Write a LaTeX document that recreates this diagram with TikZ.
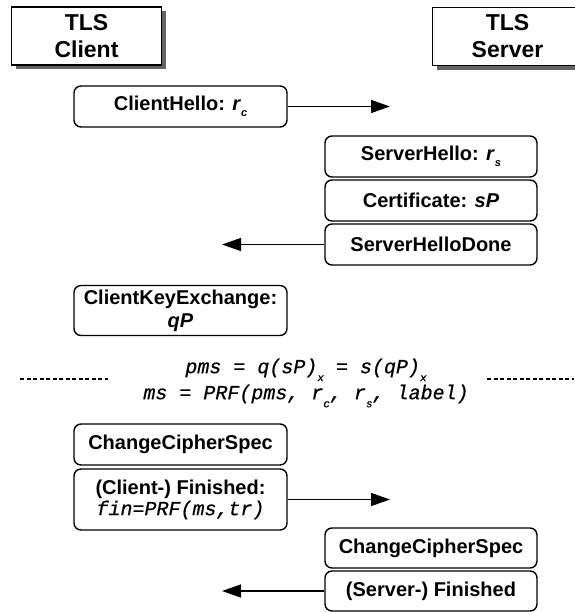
\documentclass[tikz,border=0pt]{standalone}
\usepackage{fontspec}
\setmainfont{Liberation Sans}
\setmonofont{Liberation Mono}[FakeBold=0.6]
\usetikzlibrary{arrows.meta}
\definecolor{tlsshade}{RGB}{100,100,100}
\newcommand{\lowsub}[2][-6pt]{\raisebox{#1}{\fontsize{11}{11}\selectfont #2}}
\newcommand{\msgsize}{\fontsize{20}{23}\selectfont}
\tikzset{party/.style={draw,line width=1.3pt,fill=white,minimum width=150pt,minimum height=58pt,inner sep=0pt,align=center,
    font=\bfseries\fontsize{23}{27}\selectfont},
  partyback/.style={fill=tlsshade,minimum width=150pt,minimum height=58pt,inner sep=0pt},
  msg/.style={draw,line width=1.4pt,rounded corners=7pt,minimum width=213pt,minimum height=41pt,inner sep=0pt,align=center,font=\bfseries\msgsize},
  send/.style={-{Triangle[length=19pt,width=13pt]},line width=1.4pt},
  sep/.style={line width=1.4pt,dash pattern=on 4pt off 2.5pt},
  keytext/.style={font=\ttfamily\itshape\fontsize{20}{26}\selectfont,align=center}}

\begin{document}
\begin{tikzpicture}[x=1pt,y=-1pt]
\useasboundingbox (0,0) rectangle (574,612);
\node[partyback] (clback) at (91,40.5) {};
\node[partyback] (svback) at (512,41) {};
\node[party] (cl) at (86.5,36) {TLS\\Client};
\node[party] (sv) at (507.5,36.5) {TLS\\Server};
\node[msg] (chello) at (180.5,106.5) {ClientHello: \textit{r}\lowsub{\textit{c}}};
\node[msg,minimum width=212pt] (shello) at (431,156.5) {ServerHello: \textit{r}\lowsub{\textit{s}}};
\node[msg,minimum width=212pt] (cert) at (431,200.5) {Certificate: \textit{sP}};
\node[msg,minimum width=212pt] (shdone) at (431,244.5) {ServerHelloDone};
\node[msg,minimum height=50pt] (cke) at (180.5,310.5) {ClientKeyExchange:\\\textit{qP}};
\node[keytext] (keys) at (306,383) {pms = q(sP)\lowsub[-8pt]{x} = s(qP)\lowsub[-8pt]{x}\\ms = PRF(pms, r\lowsub[-8pt]{c}, r\lowsub[-8pt]{s}, label)};
\node[msg] (ccsc) at (180.5,444.5) {ChangeCipherSpec};
\node[msg,minimum height=61pt] (finc) at (180.5,499.5) {(Client-) Finished:\\[-2pt]{\mdseries\ttfamily\itshape fin=PRF(ms,tr)}};
\node[msg,minimum width=212pt,minimum height=40pt] (ccss) at (431,548) {ChangeCipherSpec};
\node[msg,minimum width=212pt,minimum height=40pt] (fins) at (431,591) {(Server-) Finished};
\coordinate (chto) at (390,106.5);
\coordinate (shdto) at (222,244.5);
\coordinate (fincto) at (390,499.5);
\coordinate (finsto) at (222,591);
\draw[send] (chello) -- (chto);
\draw[send] (shdone) -- (shdto);
\draw[send] (finc) -- (fincto);
\draw[send] (fins) -- (finsto);
\draw[sep] (20,379) -- (108,379);
\draw[sep] (487,379) -- (574,379);
\end{tikzpicture}
\end{document}
